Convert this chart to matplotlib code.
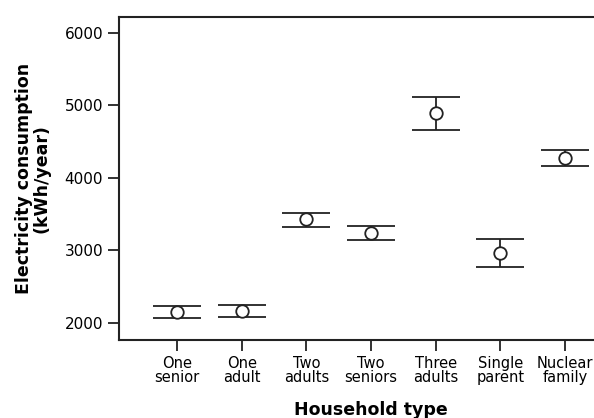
import matplotlib.pyplot as plt
import numpy as np

# household types and 95% CI (kWh/year)
household = ['One\nsenior', 'One\nadult', 'Two\nadults', 'Two\nseniors',
             'Three\nadults', 'Single\nparent', 'Nuclear\nfamily']
mean = [2156, 2166, 3430, 3246, 4892, 2961, 4272]
lower = [2073, 2087, 3328, 3149, 4662, 2768, 4166]
upper = [2234, 2248, 3521, 3342, 5113, 3154, 4386]

x = np.arange(len(household))
mean = np.array(mean)
yerr = [mean - np.array(lower), np.array(upper) - mean]

fig = plt.figure(figsize=(5.94, 4.18), dpi=100)
# axes run past the right edge, like the cropped original
ax = fig.add_axes([119 / 594, 1 - 340 / 418, 504 / 594, 323 / 418])

ax.errorbar(x, mean, yerr=yerr, fmt='o', mfc='white', mec='#222222',
            ms=9, mew=1.3, ecolor='#222222', elinewidth=1.3,
            capsize=17.5, capthick=1.4)

ax.set_xlim(-0.9, 6.9)
ax.set_ylim(1765, 6220)
ax.set_yticks([2000, 3000, 4000, 5000, 6000])
ax.set_xticks(x)
ax.set_xticklabels(household, fontsize=10.5, linespacing=0.95)
ax.tick_params(axis='y', labelsize=11, length=8, width=1.3, color='#222222')
ax.tick_params(axis='x', length=8, width=1.3, color='#222222')

for side in ['left', 'top', 'bottom']:
    ax.spines[side].set_linewidth(1.5)
    ax.spines[side].set_color('#222222')
ax.spines['right'].set_visible(False)

ax.set_ylabel('Electricity consumption\n(kWh/year)', fontsize=12.5,
              fontweight='bold', linespacing=0.95, labelpad=10)
ax.set_xlabel('Household type', fontsize=12.5, fontweight='bold', labelpad=11)

fig.savefig('out.png', dpi=100)
